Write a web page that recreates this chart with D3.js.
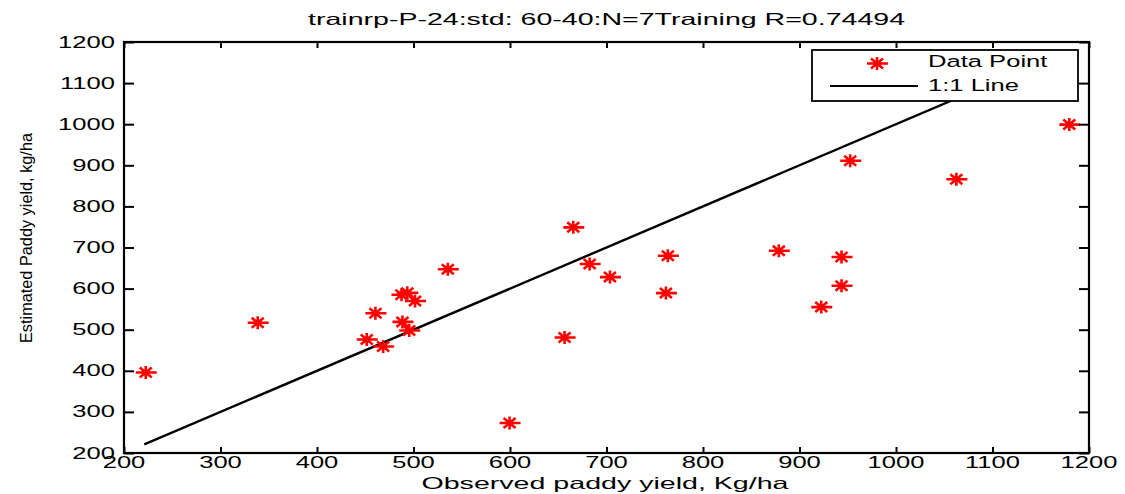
<!DOCTYPE html>
<html>
<head>
<meta charset="utf-8">
<script src="https://cdn.jsdelivr.net/npm/d3@7"></script>
<style>
  body { margin: 0; background: #fff; }
  svg { display: block; font-family: "Liberation Sans", Arial, sans-serif; }
</style>
</head>
<body>
<svg id="chart" width="1125" height="494"></svg>
<script>
// observed vs estimated paddy yield (kg/ha)
const observed = [221, 337, 450, 467, 459, 486, 492, 500, 487, 494, 534, 598, 655, 664, 681, 702, 760, 762, 877, 921, 942, 942, 951, 1061, 1178];
const estimated = [396, 517, 476, 459, 540, 585, 590, 570, 519, 498, 647, 273, 481, 749, 660, 628, 589, 680, 692, 555, 607, 677, 911, 866, 999];
const ticks = [200, 300, 400, 500, 600, 700, 800, 900, 1000, 1100, 1200];
const legendLabels = ['Data Point', '1:1 Line'];
const titleText = 'trainrp-P-24:std: 60-40:N=7Training R=0.74494';

const plotL = 124, plotR = 1089, plotT = 42, plotB = 453;
const sx = 1.55; // text in the reference is stretched sideways

const svg = d3.select('#chart');
const x = d3.scaleLinear().domain([200, 1200]).range([plotL, plotR]);
const y = d3.scaleLinear().domain([200, 1200]).range([plotB, plotT]);

// 1:1 line over the observed range
const lo = d3.min(observed), hi = d3.max(observed);
svg.append('line')
  .attr('x1', x(lo)).attr('y1', y(lo))
  .attr('x2', x(hi)).attr('y2', y(hi))
  .attr('stroke', '#000').attr('stroke-width', 2.4);

// asterisk markers
const star = 'M-10,0H11M0,-6.5V6.5M-6,-5L6,5M-6,5L6,-5';
svg.append('g')
  .selectAll('path')
  .data(observed.map((d, i) => [d, estimated[i]]))
  .join('path')
  .attr('transform', d => `translate(${x(d[0]) + 1.5},${y(d[1])})`)
  .attr('d', star)
  .attr('fill', 'none')
  .attr('stroke', '#ff0000')
  .attr('stroke-width', 2.6);

// axes, ticks pointing inward on all sides
const bottomAxis = svg.append('g').attr('transform', `translate(0,${plotB})`)
  .call(d3.axisTop(x).tickValues(ticks).tickSize(6).tickFormat(''));
const topAxis = svg.append('g').attr('transform', `translate(0,${plotT})`)
  .call(d3.axisBottom(x).tickValues(ticks).tickSize(6).tickFormat(''));
const leftAxis = svg.append('g').attr('transform', `translate(${plotL},0)`)
  .call(d3.axisRight(y).tickValues(ticks).tickSize(10).tickFormat(''));
const rightAxis = svg.append('g').attr('transform', `translate(${plotR},0)`)
  .call(d3.axisLeft(y).tickValues(ticks).tickSize(10).tickFormat(''));
[bottomAxis, topAxis, leftAxis, rightAxis].forEach(a => {
  a.select('.domain').remove();
  a.selectAll('line').attr('stroke', '#000').attr('stroke-width', 2);
});

svg.append('rect')
  .attr('x', plotL).attr('y', plotT)
  .attr('width', plotR - plotL).attr('height', plotB - plotT)
  .attr('fill', 'none').attr('stroke', '#000').attr('stroke-width', 2.2);

// tick labels
svg.append('g').selectAll('text')
  .data(ticks)
  .join('text')
  .attr('transform', d => `translate(${x(d)},${468}) scale(${sx},1)`)
  .attr('text-anchor', 'middle')
  .attr('font-size', 16.5)
  .text(d => d);

svg.append('g').selectAll('text')
  .data(ticks)
  .join('text')
  .attr('transform', d => `translate(115,${y(d) + 5.5}) scale(${sx},1)`)
  .attr('text-anchor', 'end')
  .attr('font-size', 16.5)
  .text(d => d);

// title and axis labels
svg.append('text')
  .attr('x', (plotL + plotR) / 2).attr('y', 25)
  .attr('text-anchor', 'middle')
  .attr('font-size', 16.5)
  .attr('textLength', 597).attr('lengthAdjust', 'spacingAndGlyphs')
  .text(titleText);

svg.append('text')
  .attr('x', 605).attr('y', 489)
  .attr('text-anchor', 'middle')
  .attr('font-size', 16.5)
  .attr('textLength', 367).attr('lengthAdjust', 'spacingAndGlyphs')
  .text('Observed paddy yield, Kg/ha');

svg.append('text')
  .attr('transform', 'translate(32,238) rotate(-90)')
  .attr('text-anchor', 'middle')
  .attr('font-size', 17)
  .attr('textLength', 210).attr('lengthAdjust', 'spacingAndGlyphs')
  .text('Estimated Paddy yield, kg/ha');

// legend
const legend = svg.append('g');
legend.append('rect')
  .attr('x', 812).attr('y', 50).attr('width', 266).attr('height', 51)
  .attr('fill', '#fff').attr('stroke', '#000').attr('stroke-width', 1.8);
legend.append('path')
  .attr('transform', 'translate(877,63.5)')
  .attr('d', star)
  .attr('fill', 'none').attr('stroke', '#ff0000').attr('stroke-width', 2.6);
legend.append('line')
  .attr('x1', 830).attr('x2', 918).attr('y1', 86).attr('y2', 86)
  .attr('stroke', '#000').attr('stroke-width', 2);
legend.selectAll('text.lbl')
  .data(legendLabels)
  .join('text')
  .attr('class', 'lbl')
  .attr('transform', (d, i) => `translate(928,${i ? 91 : 67}) scale(${sx},1)`)
  .attr('font-size', 16.5)
  .text(d => d);
</script>
</body>
</html>
